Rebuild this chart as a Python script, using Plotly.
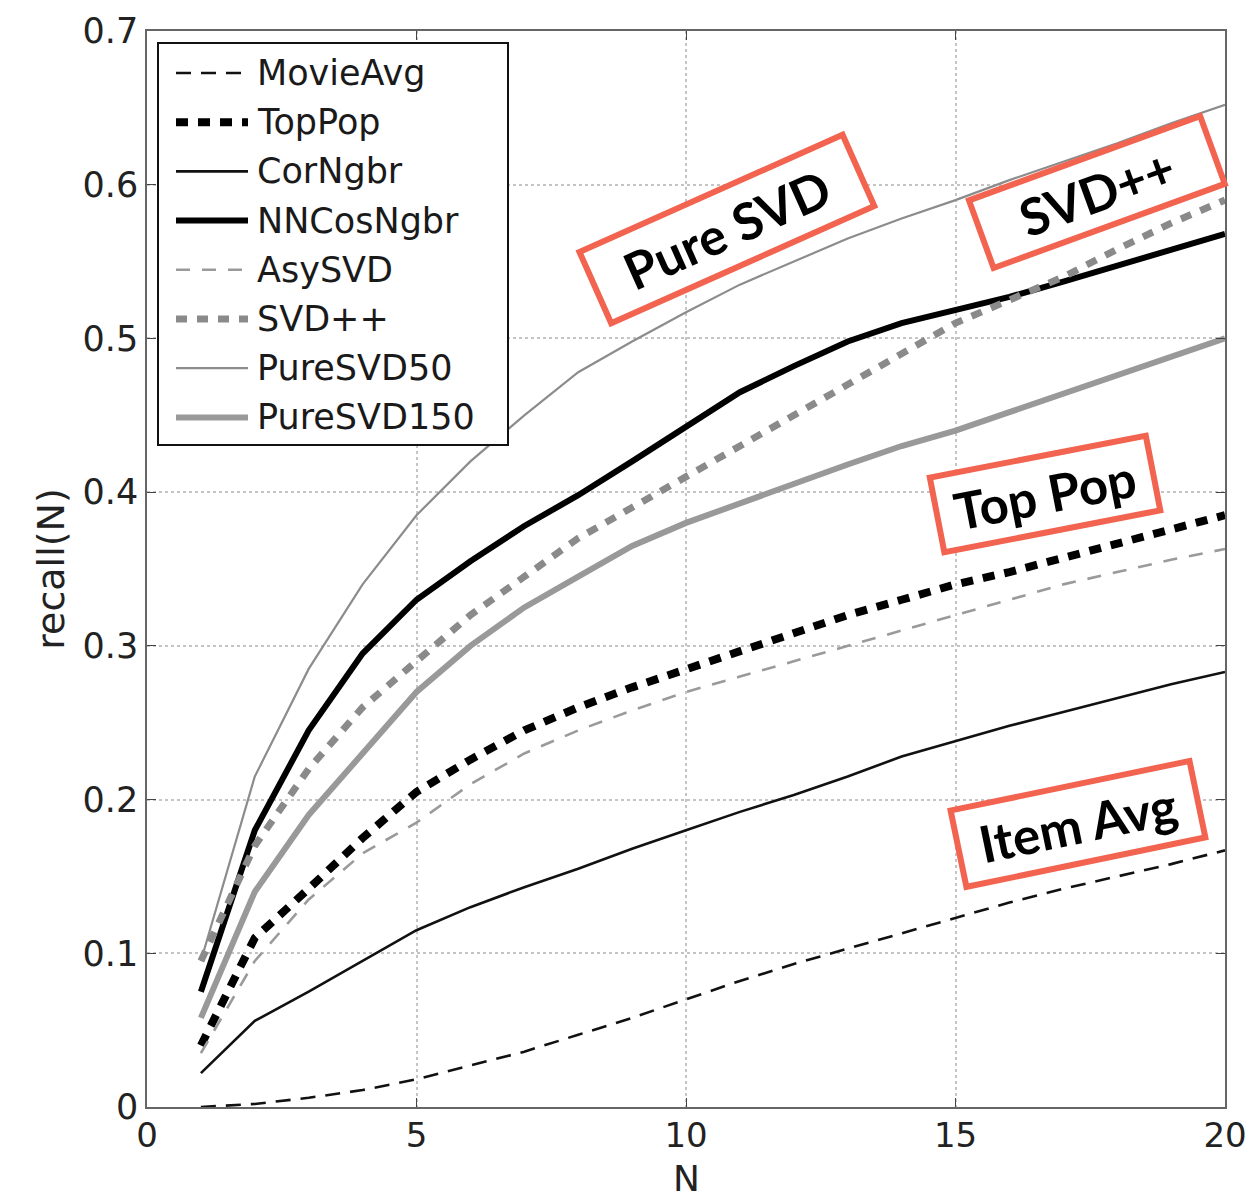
import plotly.graph_objects as go

# Top-N recall curves for several recommender algorithms
N = list(range(1, 21))

movie_avg = [0.000, 0.002, 0.006, 0.011, 0.018, 0.027, 0.036, 0.047, 0.058, 0.070,
             0.082, 0.093, 0.103, 0.113, 0.123, 0.133, 0.142, 0.150, 0.158, 0.167]
top_pop = [0.040, 0.110, 0.142, 0.175, 0.205, 0.226, 0.245, 0.260, 0.273, 0.285,
           0.296, 0.309, 0.320, 0.330, 0.340, 0.348, 0.357, 0.366, 0.375, 0.385]
cor_ngbr = [0.022, 0.056, 0.075, 0.095, 0.115, 0.130, 0.143, 0.155, 0.168, 0.180,
            0.192, 0.203, 0.215, 0.228, 0.238, 0.248, 0.257, 0.266, 0.275, 0.283]
nncos_ngbr = [0.075, 0.180, 0.245, 0.295, 0.330, 0.355, 0.378, 0.398, 0.420, 0.443,
              0.465, 0.482, 0.498, 0.510, 0.518, 0.527, 0.537, 0.547, 0.557, 0.568]
asy_svd = [0.035, 0.095, 0.135, 0.165, 0.185, 0.210, 0.230, 0.245, 0.258, 0.270,
           0.280, 0.290, 0.300, 0.310, 0.320, 0.330, 0.340, 0.348, 0.356, 0.363]
svd_pp = [0.095, 0.170, 0.220, 0.260, 0.290, 0.320, 0.345, 0.370, 0.390, 0.410,
          0.430, 0.450, 0.470, 0.490, 0.510, 0.525, 0.540, 0.558, 0.575, 0.590]
pure_svd50 = [0.095, 0.215, 0.285, 0.340, 0.385, 0.420, 0.450, 0.478, 0.498, 0.517,
              0.535, 0.550, 0.565, 0.578, 0.590, 0.603, 0.615, 0.627, 0.640, 0.652]
pure_svd150 = [0.058, 0.140, 0.190, 0.230, 0.270, 0.300, 0.325, 0.345, 0.365, 0.380,
               0.393, 0.405, 0.418, 0.430, 0.440, 0.452, 0.464, 0.476, 0.488, 0.500]

series_names = ["MovieAvg", "TopPop", "CorNgbr", "NNCosNgbr",
                "AsySVD", "SVD++", "PureSVD50", "PureSVD150"]
series_values = [movie_avg, top_pop, cor_ngbr, nncos_ngbr,
                 asy_svd, svd_pp, pure_svd50, pure_svd150]

x_ticks = [0, 5, 10, 15, 20]
y_ticks = [0, 0.1, 0.2, 0.3, 0.4, 0.5, 0.6, 0.7]
y_tick_labels = ["0", "0.1", "0.2", "0.3", "0.4", "0.5", "0.6", "0.7"]
x_title = "N"
y_title = "recall(N)"

callout_texts = ["Pure SVD", "SVD++", "Top Pop", "Item Avg"]

# line styles: colour, width, dash
styles = [
    ("#111111", 2.6, "15px,10px"),
    ("#000000", 8.0, "12px,10px"),
    ("#111111", 2.6, "solid"),
    ("#000000", 6.0, "solid"),
    ("#9a9a9a", 2.6, "14px,12px"),
    ("#8a8a8a", 7.0, "11px,10px"),
    ("#8c8c8c", 2.2, "solid"),
    ("#999999", 6.0, "solid"),
]

W, H = 1247, 1201
L, R, T, B = 147, 22, 31, 94
PW, PH = W - L - R, H - T - B
TEXT_FONT = "DejaVu Sans"


def px(xp):
    return (xp - L) / PW


def py(yp):
    return (H - B - yp) / PH


fig = go.Figure()
for name, vals, (col, wid, dash) in zip(series_names, series_values, styles):
    fig.add_trace(go.Scatter(
        x=N, y=vals, mode="lines", name=name, showlegend=False,
        line=dict(color=col, width=wid, dash=dash),
    ))

shapes = []
annotations = []

# legend panel
shapes.append(dict(type="rect", xref="paper", yref="paper",
                   x0=px(158), x1=px(508), y0=py(445), y1=py(43),
                   line=dict(color="#111111", width=2), fillcolor="white",
                   layer="above"))
for i, (name, (col, wid, dash)) in enumerate(zip(series_names, styles)):
    yc = 73 + i * 49.2
    shapes.append(dict(type="line", xref="paper", yref="paper",
                       x0=px(176), x1=px(248), y0=py(yc), y1=py(yc),
                       line=dict(color=col, width=wid, dash=dash),
                       layer="above"))
    annotations.append(dict(xref="paper", yref="paper", x=px(255), y=py(yc),
                            text=name, showarrow=False, xanchor="left",
                            yanchor="middle",
                            font=dict(family=TEXT_FONT, size=35,
                                      color="#1a1a1a")))

# rotated call-out boxes
callouts = [
    (10.76, 0.571, -24, 282, 72),
    (17.63, 0.595, -20, 240, 66),
    (16.66, 0.399, -11, 214, 70),
    (17.27, 0.184, -11.7, 238, 72),
]
for text, (cx, cy, ang, w, h) in zip(callout_texts, callouts):
    annotations.append(dict(
        x=cx, y=cy, xref="x", yref="y", text="<b>" + text + "</b>",
        showarrow=False, textangle=ang, width=w, height=h,
        align="center", valign="middle",
        xanchor="center", yanchor="middle",
        bgcolor="white", bordercolor="#f26350", borderwidth=6, borderpad=0,
        font=dict(family="Lato", size=51, color="#000000", weight=900),
    ))

# x-axis title placed below the tick labels
annotations.append(dict(xref="paper", yref="paper", x=0.5, y=py(1201),
                        text=x_title, showarrow=False,
                        xanchor="center", yanchor="bottom",
                        font=dict(family=TEXT_FONT, size=36, color="#222222")))

fig.update_layout(
    width=W, height=H,
    margin=dict(l=L, r=R, t=T, b=B, autoexpand=False),
    paper_bgcolor="white", plot_bgcolor="white",
    showlegend=False,
    shapes=shapes, annotations=annotations,
    font=dict(family=TEXT_FONT, color="#222222"),
)
fig.update_xaxes(
    range=[0, 20], tickvals=x_ticks, ticktext=[str(v) for v in x_ticks],
    showgrid=True, gridcolor="#c4c4c4", griddash="dot", gridwidth=1.5,
    showline=True, linecolor="#666666", linewidth=1.5, mirror="ticks",
    ticks="inside", ticklen=9, tickcolor="#444444",
    tickfont=dict(size=34, color="#222222"), ticklabeloverflow="allow",
    ticklabelstandoff=-3,
    zeroline=False, automargin=False,
)
fig.update_yaxes(
    range=[0, 0.7], tickvals=y_ticks, ticktext=y_tick_labels,
    showgrid=True, gridcolor="#c4c4c4", griddash="dot", gridwidth=1.5,
    showline=True, linecolor="#666666", linewidth=1.5, mirror="ticks",
    ticks="inside", ticklen=9, tickcolor="#444444",
    tickfont=dict(size=35, color="#222222"), ticklabeloverflow="allow",
    title=dict(text=y_title, font=dict(size=38, color="#222222"), standoff=6),
    zeroline=False, automargin=False,
)

fig.write_html("out.html")
